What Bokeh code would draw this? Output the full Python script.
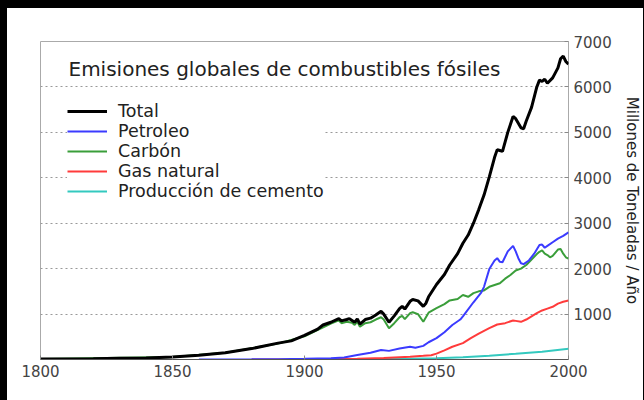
from bokeh.plotting import figure
from bokeh.models import Range1d, FixedTicker, Label, Legend, LegendItem, Spacer
from bokeh.layouts import row, column
from bokeh.embed import file_html
from bokeh.resources import INLINE

# Global fossil-fuel carbon emissions, million tonnes per year
total_years = [1800, 1810, 1820, 1830, 1840, 1850, 1860, 1870, 1880, 1890, 1895,
               1900, 1905, 1907, 1910, 1913, 1914, 1916, 1917, 1918, 1919, 1920,
               1921, 1923, 1925, 1927, 1929, 1930, 1932, 1934, 1936, 1937, 1938,
               1940, 1941, 1943, 1945, 1946, 1947, 1950, 1953, 1955, 1958, 1960,
               1962, 1964, 1966, 1968, 1970, 1972, 1973, 1974, 1975, 1977, 1979,
               1980, 1982, 1983, 1984, 1986, 1988, 1989, 1990, 1991, 1992, 1994,
               1996, 1997, 1998, 1999, 2000]
total_vals = [10, 12, 15, 25, 35, 55, 95, 150, 240, 360, 410,
              530, 670, 760, 820, 900, 850, 880, 900, 860, 820, 890,
              780, 880, 910, 980, 1060, 1000, 820, 960, 1120, 1170, 1110,
              1280, 1320, 1290, 1170, 1240, 1380, 1650, 1870, 2080, 2330, 2560,
              2740, 3000, 3300, 3620, 4020, 4450, 4620, 4600, 4580, 5000, 5350,
              5300, 5100, 5080, 5250, 5550, 6000, 6150, 6120, 6170, 6080, 6200,
              6420, 6620, 6680, 6560, 6500]

coal_years = [1800, 1850, 1870, 1890, 1900, 1910, 1913, 1914, 1916, 1918, 1919,
              1920, 1921, 1923, 1925, 1927, 1929, 1930, 1932, 1934, 1936, 1937,
              1938, 1940, 1941, 1943, 1945, 1946, 1947, 1950, 1953, 1955, 1958,
              1960, 1962, 1964, 1966, 1968, 1970, 1972, 1974, 1976, 1978, 1980,
              1982, 1984, 1986, 1988, 1989, 1990, 1991, 1992, 1993, 1994, 1996,
              1997, 1998, 1999, 2000]
coal_vals = [10, 55, 148, 350, 510, 790, 860, 800, 830, 810, 760,
             830, 720, 800, 820, 880, 930, 880, 690, 800, 930, 960,
             890, 1020, 1040, 1000, 830, 930, 1030, 1130, 1220, 1300, 1330,
             1420, 1380, 1460, 1500, 1520, 1600, 1640, 1680, 1780, 1860, 1960,
             2000, 2080, 2200, 2320, 2370, 2400, 2330, 2300, 2250, 2280, 2420,
             2430, 2330, 2250, 2220]

oil_years = [1860, 1870, 1880, 1890, 1900, 1910, 1915, 1920, 1925, 1929, 1932,
             1936, 1940, 1942, 1945, 1947, 1950, 1953, 1956, 1959, 1960, 1964,
             1967, 1968, 1970, 1972, 1973, 1974, 1975, 1977, 1979, 1980, 1981,
             1982, 1983, 1985, 1987, 1989, 1990, 1991, 1992, 1994, 1996, 1998,
             2000]
oil_vals = [0, 1, 3, 8, 15, 30, 45, 100, 150, 210, 190,
            240, 280, 260, 300, 380, 470, 600, 760, 880, 950, 1260,
            1480, 1600, 1990, 2180, 2230, 2150, 2140, 2380, 2500, 2380, 2230,
            2120, 2100, 2180, 2330, 2520, 2530, 2460, 2500, 2580, 2660, 2720,
            2800]

gas_years = [1880, 1900, 1910, 1920, 1930, 1940, 1945, 1948, 1950, 1953, 1956,
             1960, 1963, 1966, 1970, 1973, 1976, 1979, 1980, 1982, 1984, 1986,
             1988, 1990, 1992, 1994, 1996, 1998, 2000]
gas_vals = [0, 5, 10, 15, 35, 60, 80, 95, 130, 200, 280,
            360, 470, 570, 690, 770, 800, 860, 850, 830, 880, 950,
            1020, 1080, 1120, 1160, 1230, 1270, 1300]

cement_years = [1920, 1930, 1940, 1950, 1960, 1970, 1980, 1990, 2000]
cement_vals = [5, 10, 15, 25, 50, 85, 125, 170, 235]

y_ticks = [1000, 2000, 3000, 4000, 5000, 6000, 7000]
x_ticks = [1800, 1850, 1900, 1950, 2000]

FONT = "DejaVu Sans"

p = figure(frame_width=528, frame_height=318,
           min_border_left=33, min_border_right=73,
           min_border_top=33, min_border_bottom=41,
           x_range=Range1d(1800, 2000), y_range=Range1d(0, 7000),
           y_axis_location="right", output_backend="svg",
           toolbar_location=None, background_fill_color="white",
           border_fill_color="white")

p.outline_line_color = "#aaaaaa"
p.outline_line_width = 1

# horizontal dotted grid
p.xgrid.grid_line_color = None
p.ygrid.ticker = FixedTicker(ticks=y_ticks[:-1])
p.ygrid.grid_line_color = "#999999"
p.ygrid.grid_line_dash = "2 3"
p.ygrid.grid_line_width = 1

# bottom axis
xa = p.xaxis[0]
xa.ticker = FixedTicker(ticks=x_ticks)
xa.axis_line_color = "#555555"
xa.major_tick_in = 4
xa.major_tick_out = 0
xa.major_tick_line_color = "#888888"
xa.minor_tick_line_color = None
xa.major_label_standoff = 5
xa.major_label_text_font = FONT
xa.major_label_text_font_size = "15px"
xa.major_label_text_color = "#444444"

# right axis
ya = p.yaxis[0]
ya.ticker = FixedTicker(ticks=y_ticks)
ya.axis_line_color = None
ya.major_tick_in = 4
ya.major_tick_out = 0
ya.major_tick_line_color = "#888888"
ya.minor_tick_line_color = None
ya.major_label_standoff = 5
ya.major_label_text_font = FONT
ya.major_label_text_font_size = "15px"
ya.major_label_text_color = "#444444"
ya.axis_label = "Millones de Toneladas / Año"
ya.axis_label_text_font = FONT
ya.axis_label_text_font_size = "15px"
ya.axis_label_text_font_style = "normal"
ya.axis_label_text_color = "#222222"
ya.axis_label_standoff = 8

r_cem = p.line(cement_years, cement_vals, line_color="#33c9bf", line_width=2)
r_gas = p.line(gas_years, gas_vals, line_color="#ff3b3b", line_width=2)
r_coal = p.line(coal_years, coal_vals, line_color="#3a9e3a", line_width=2)
r_oil = p.line(oil_years, oil_vals, line_color="#3b3bff", line_width=2)
r_tot = p.line(total_years, total_vals, line_color="black", line_width=3)

legend = Legend(items=[
    LegendItem(label="Total", renderers=[r_tot]),
    LegendItem(label="Petroleo", renderers=[r_oil]),
    LegendItem(label="Carbón", renderers=[r_coal]),
    LegendItem(label="Gas natural", renderers=[r_gas]),
    LegendItem(label="Producción de cemento", renderers=[r_cem]),
], location=(27, 158), padding=10, margin=0, spacing=0,
   glyph_width=40, glyph_height=20, label_height=20, label_standoff=11,
   label_text_font=FONT, label_text_font_size="17.5px",
   label_text_color="#222222", background_fill_color="white",
   background_fill_alpha=1.0, border_line_color=None)
p.add_layout(legend)

p.add_layout(Label(x=28, y=291, x_units="screen", y_units="screen",
                   text="Emisiones globales de combustibles fósiles",
                   text_font=FONT, text_font_size="20px",
                   text_color="#222222", text_baseline="middle"))

black = {"background-color": "black"}
layout = column(
    Spacer(width=644, height=8, styles=black),
    row(Spacer(width=7, height=392, styles=black), p,
        Spacer(width=3, height=392, styles=black)),
)

open("out.html", "w").write(file_html(layout, INLINE))
